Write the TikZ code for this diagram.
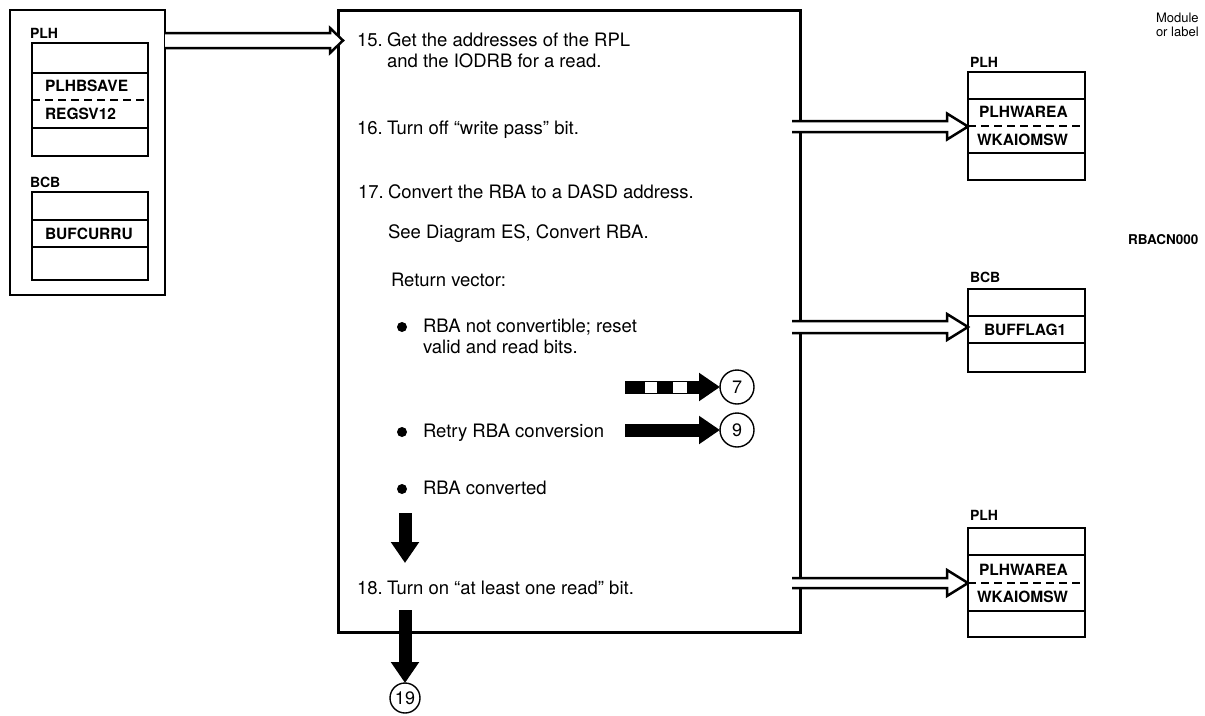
\documentclass[tikz,border=0pt]{standalone}
\usepackage{fontspec}
\setmainfont{TeX Gyre Heros}
\usetikzlibrary{arrows.meta,calc}

% hollow block arrow: #1 start, #2 tip, #3 half shaft, #4 head length, #5 half head
\newcommand\hollowarrow[5]{%
  \path[hollow] ($(#1)+(0,-#3)$) -- ($(#2)+(-#4,-#3)$) -- ($(#2)+(-#4,-#5)$)
    -- (#2) -- ($(#2)+(-#4,#5)$) -- ($(#2)+(-#4,#3)$) -- ($(#1)+(0,#3)$);}

\begin{document}
\begin{tikzpicture}[x=1pt,y=-1pt,
  every node/.style={inner sep=0pt, outer sep=0pt},
  body/.style={anchor=base west, font=\fontsize{18.5}{21}\selectfont},
  fld/.style={anchor=base west, font=\fontsize{15.5}{17}\selectfont\bfseries},
  lbl/.style={anchor=base west, font=\fontsize{14}{16}\selectfont\bfseries},
  tbl/.style={draw, line width=1.4pt, anchor=north west, minimum width=116pt},
  row/.style={line width=1.4pt},
  dashrow/.style={line width=1.4pt, dash pattern=on 8pt off 5pt},
  hollow/.style={draw, line width=2.5pt, line join=miter, fill=white},
  fat/.style={line width=13pt, -{Triangle[length=21pt,width=27pt]}},
  conn/.style={draw, circle, line width=1.4pt, minimum size=32pt, font=\fontsize{18}{18}\selectfont},
  bul/.style={fill, circle, minimum size=10pt}
]
\useasboundingbox (0,0) rectangle (1205,715);

% ---- input area ----
\node[draw, line width=1.3pt, anchor=north west, minimum width=155pt, minimum height=285pt] (lbox) at (10,10) {};
\node[lbl] (lplhl) at (30,38) {PLH};
\node[tbl, minimum height=113pt] (lplh) at (32,43) {};
\draw[row] (lplh.west |- 0,73) -- (lplh.east |- 0,73);
\draw[dashrow] (lplh.west |- 0,100) -- (lplh.east |- 0,100);
\draw[row] (lplh.west |- 0,128) -- (lplh.east |- 0,128);
\node[fld] (plhbsave) at (45,91.5) {PLHBSAVE};
\node[fld] (regsv) at (45,119.5) {REGSV12};

\node[lbl] (lbcbl) at (30,187) {BCB};
\node[tbl, minimum height=88pt] (lbcb) at (32,192) {};
\draw[row] (lbcb.west |- 0,220) -- (lbcb.east |- 0,220);
\draw[row] (lbcb.west |- 0,247) -- (lbcb.east |- 0,247);
\node[fld] (bufcurru) at (45,239.5) {BUFCURRU};

% ---- process box ----
\node[draw, line width=3pt, anchor=north west, minimum width=462pt, minimum height=622pt] (main) at (338,10) {};

\node[body] (n15) at (357,46.5) {15.};
\node[body] (s15a) at (387,46.5) {Get the addresses of the RPL};
\node[body] (s15b) at (387,67.5) {and the IODRB for a read.};
\node[body] (n16) at (357,134.5) {16.};
\node[body] (s16) at (387,134.5) {Turn off ``write pass'' bit.};
\node[body] (n17) at (358,198.5) {17.};
\node[body] (s17) at (388,198.5) {Convert the RBA to a DASD address.};
\node[body] (s17b) at (388,238.5) {See Diagram ES, Convert RBA.};
\node[body] (s17c) at (391,286.5) {Return vector:};
\node[bul] (b1) at (402,327) {};
\node[body] (v1a) at (423,332.5) {RBA not convertible; reset};
\node[body] (v1b) at (423,353.5) {valid and read bits.};
\node[bul] (b2) at (402,432) {};
\node[body] (v2) at (423,437.5) {Retry RBA conversion};
\node[bul] (b3) at (402,489) {};
\node[body] (v3) at (423,494.5) {RBA converted};
\node[body] (n18) at (357,594.5) {18.};
\node[body] (s18) at (387,594.5) {Turn on ``at least one read'' bit.};

% ---- output areas ----
\node[lbl] (rplhal) at (970,67) {PLH};
\node[tbl, minimum height=108pt, minimum width=117pt] (rplha) at (968,72) {};
\draw[row] (rplha.west |- 0,99) -- (rplha.east |- 0,99);
\draw[dashrow] (rplha.west |- 0,126) -- (rplha.east |- 0,126);
\draw[row] (rplha.west |- 0,153) -- (rplha.east |- 0,153);
\node[fld] (pwa1) at (979,117.5) {PLHWAREA};
\node[fld] (wka1) at (977,145.5) {WKAIOMSW};

\node[lbl] (rbcbl) at (970,282) {BCB};
\node[tbl, minimum height=83pt, minimum width=117pt] (rbcb) at (968,289) {};
\draw[row] (rbcb.west |- 0,316) -- (rbcb.east |- 0,316);
\draw[row] (rbcb.west |- 0,343) -- (rbcb.east |- 0,343);
\node[fld] (bufflag) at (984,335.5) {BUFFLAG1};

\node[lbl] (rplhbl) at (970,520) {PLH};
\node[tbl, minimum height=109pt, minimum width=117pt] (rplhb) at (968,528) {};
\draw[row] (rplhb.west |- 0,555) -- (rplhb.east |- 0,555);
\draw[dashrow] (rplhb.west |- 0,583) -- (rplhb.east |- 0,583);
\draw[row] (rplhb.west |- 0,611) -- (rplhb.east |- 0,611);
\node[fld] (pwa2) at (979,575.5) {PLHWAREA};
\node[fld] (wka2) at (977,602.5) {WKAIOMSW};

\node[anchor=base west, font=\fontsize{13}{14}\selectfont] (mod1) at (1156,22) {Module};
\node[anchor=base west, font=\fontsize{13}{14}\selectfont] (mod2) at (1156,36) {or label};
\node[anchor=base west, font=\fontsize{13.5}{14}\selectfont\bfseries] (rbacn) at (1128,244) {RBACN000};

% ---- hollow data-flow arrows ----
\coordinate (t0) at ($(main.west |- 0,40.5)+(5,0)$);
\coordinate (s0) at (lbox.east |- t0);
\hollowarrow{s0}{t0}{7.5}{13}{12.5}

\coordinate (t1) at (rplha.west |- 0,126.5);
\coordinate (s1) at ($(main.east |- t1)+(-8,0)$);
\hollowarrow{s1}{t1}{5.5}{21}{13}

\coordinate (t2) at (rbcb.west |- 0,327);
\coordinate (s2) at ($(main.east |- t2)+(-8,0)$);
\hollowarrow{s2}{t2}{6}{21}{13}

\coordinate (t3) at (rplhb.west |- 0,583);
\coordinate (s3) at ($(main.east |- t3)+(-8,0)$);
\hollowarrow{s3}{t3}{5}{21}{13}

% ---- control-flow arrows and connectors ----
\node[conn, minimum size=34pt] (c7) at (737,387) {7};
\coordinate (a7) at (625,387);
\draw[fat] (a7) -- (c7.west);
\fill[white] ($(a7)+(20,-5.5)$) rectangle ($(a7)+(32,5.5)$);
\fill[white] ($(a7)+(48,-5.5)$) rectangle ($(a7)+(62,5.5)$);

\node[conn, minimum size=34pt] (c9) at (737,430) {9};
\coordinate (a9) at (625,430);
\draw[fat] (a9) -- (c9.west);

\coordinate (d1) at (405,513);
\coordinate (d1e) at (405,563);
\draw[fat] (d1) -- (d1e);

\node[conn, minimum size=30pt] (c19) at (405,698) {19};
\coordinate (d2) at (405,610);
\draw[fat] (d2) -- (c19.north);
\end{tikzpicture}
\end{document}
